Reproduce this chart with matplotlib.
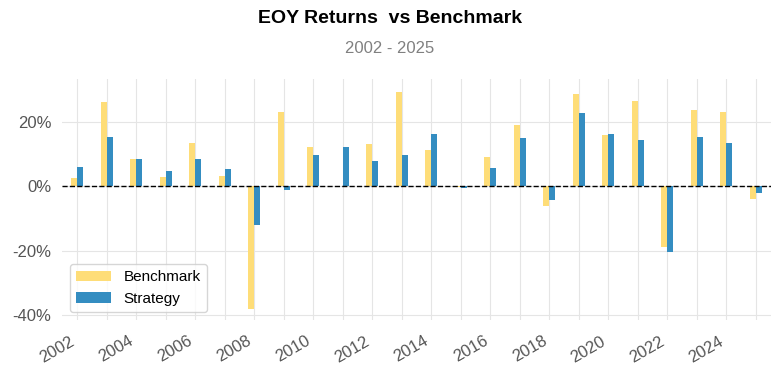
import numpy as np
import matplotlib
matplotlib.use("Agg")
import matplotlib.pyplot as plt
from matplotlib.ticker import FuncFormatter

plt.rcParams['font.family'] = ['Liberation Sans', 'DejaVu Sans']

years = list(range(2002, 2026))
benchmark = [2.7, 26.4, 8.6, 2.9, 13.4, 3.2, -38.2, 23.3, 12.3, 0.0, 13.1, 29.3,
             11.3, -0.1, 9.3, 19.1, -6.1, 28.8, 15.9, 26.5, -19.0, 23.9, 23.2, -3.9]
strategy = [6.0, 15.5, 8.4, 4.8, 8.4, 5.5, -12.0, -1.2, 9.9, 12.2, 7.8, 9.9,
            16.3, -0.5, 5.9, 15.0, -4.1, 22.8, 16.3, 14.4, -20.5, 15.5, 13.6, -2.0]

fig, ax = plt.subplots(figsize=(7.8, 3.76), dpi=100)
fig.subplots_adjust(left=0.08, right=0.988, top=0.79, bottom=0.15)

x = np.arange(len(years))
w = 0.2
ax.bar(x - w / 2, benchmark, width=w, color="#fedd78", label="Benchmark", zorder=2)
ax.bar(x + w / 2, strategy, width=w, color="#348dc1", label="Strategy", zorder=2)

ax.axhline(0, color="black", ls="--", lw=1, zorder=3)

ax.set_xlim(-0.5, len(years) - 0.5)
ax.set_ylim(-41.5, 33.5)
ax.set_yticks([-40, -20, 0, 20])
ax.yaxis.set_major_formatter(FuncFormatter(lambda v, _: f"{v:.0f}%"))

ax.set_xticks(x)
ax.set_xticklabels([str(y) if i % 2 == 0 else "" for i, y in enumerate(years)],
                   rotation=30, ha="right")
ax.tick_params(axis="both", colors="#555555", labelsize=12, length=0)
ax.tick_params(axis="x", pad=10)
ax.tick_params(axis="y", pad=8)

ax.grid(True, color="#e5e5e5", lw=0.8, zorder=0)
for s in ax.spines.values():
    s.set_visible(False)

leg = ax.legend(loc="lower left", fontsize=11, frameon=True, fancybox=True,
                bbox_to_anchor=(0.0, 0.0), handlelength=2.3)
leg.get_frame().set_edgecolor("#cccccc")

fig.text(0.5, 0.952, "EOY Returns  vs Benchmark", ha="center", va="center",
         fontsize=14, fontweight="bold", color="black")
fig.text(0.5, 0.872, "2002 - 2025", ha="center", va="center",
         fontsize=12, color="gray")

fig.savefig("out.png", dpi=100, facecolor="white")
